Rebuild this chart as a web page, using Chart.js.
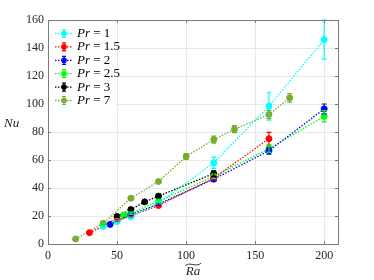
<!DOCTYPE html>
<html>
<head>
<meta charset="utf-8">
<script src="https://cdn.jsdelivr.net/npm/chart.js@4.4.0/dist/chart.umd.min.js"></script>
<style>
  html, body { margin: 0; padding: 0; background: #fff; }
  #wrap { width: 374px; height: 280px; }
</style>
</head>
<body>
<div id="wrap"><canvas id="nuChart" width="374" height="280"></canvas></div>
<script>
// Nu vs modified Ra, one series per Prandtl number
const prLabels = ['1', '1.5', '2', '2.5', '3', '7'];
const prColors = ['#00ffff', '#ff0000', '#0000ff', '#00ff00', '#000000', '#77ac30'];

const raPr1 = [40, 50, 60, 80, 120, 160, 200];
const nuPr1 = [12.5, 16, 19.5, 29, 58, 98.4, 146];
const errPr1 = [0.5, 0.6, 0.8, 1.2, 4, 10, 14];

const raPr15 = [30, 50, 60, 80, 120, 160];
const nuPr15 = [8.1, 17, 20, 27.5, 47, 75.2];
const errPr15 = [0.4, 0.6, 0.7, 1, 1.5, 4.5];

const raPr2 = [45, 60, 80, 120, 160, 200];
const nuPr2 = [14, 21, 28.5, 46.3, 66.6, 96.5];
const errPr2 = [0.5, 0.7, 1, 1.5, 2.5, 3.5];

const raPr25 = [40, 55, 60, 80, 120, 160, 200];
const nuPr25 = [13.5, 20.8, 22, 30.5, 48.3, 68, 91.2];
const errPr25 = [0.5, 0.7, 0.7, 1, 1.5, 2.5, 4];

const raPr3 = [50, 60, 70, 80, 120];
const nuPr3 = [19.6, 24.6, 30.1, 34.2, 50.3];
const errPr3 = [0.6, 0.8, 1, 1.2, 2];

const raPr7 = [20, 40, 60, 80, 100, 120, 135, 160, 175];
const nuPr7 = [3.6, 14.8, 32.7, 44.6, 62.5, 74.5, 82, 92.5, 104.4];
const errPr7 = [0.4, 0.8, 1, 1.3, 2, 2.5, 2.5, 3, 3];

const xTicks = [0, 50, 100, 150, 200];
const yTicks = [0, 20, 40, 60, 80, 100, 120, 140, 160];

const allRa = [raPr1, raPr15, raPr2, raPr25, raPr3, raPr7];
const allNu = [nuPr1, nuPr15, nuPr2, nuPr25, nuPr3, nuPr7];
const allErr = [errPr1, errPr15, errPr2, errPr25, errPr3, errPr7];

const serif = '"Liberation Serif", "DejaVu Serif", serif';

const datasets = prLabels.map((lab, k) => ({
    label: 'Pr = ' + lab,
    data: allRa[k].map((x, i) => ({ x: x, y: allNu[k][i] })),
    errors: allErr[k],
    showLine: true,
    borderColor: prColors[k],
    backgroundColor: prColors[k],
    borderWidth: 1.3,
    borderDash: [1.5, 1.5],
    pointRadius: 3,
    pointBorderWidth: 1,
    pointBackgroundColor: prColors[k],
    pointBorderColor: prColors[k],
    clip: false
}));

// vertical error bars with caps
const errorBars = {
    id: 'errorBars',
    afterDatasetsDraw(chart) {
        const ctx = chart.ctx;
        const ys = chart.scales.y;
        const area = chart.chartArea;
        ctx.save();
        ctx.beginPath();
        ctx.rect(area.left, area.top - 1, area.right - area.left, area.bottom - area.top + 2);
        ctx.clip();
        chart.data.datasets.forEach((ds, k) => {
            const meta = chart.getDatasetMeta(k);
            ctx.strokeStyle = ds.borderColor;
            ctx.lineWidth = 1.2;
            meta.data.forEach((pt, i) => {
                const e = ds.errors[i];
                const v = ds.data[i].y;
                const y1 = ys.getPixelForValue(v + e);
                const y2 = ys.getPixelForValue(v - e);
                const x = pt.x;
                ctx.beginPath();
                ctx.moveTo(x, y1); ctx.lineTo(x, y2);
                ctx.moveTo(x - 2.5, y1); ctx.lineTo(x + 2.5, y1);
                ctx.moveTo(x - 2.5, y2); ctx.lineTo(x + 2.5, y2);
                ctx.stroke();
            });
        });
        ctx.restore();
    }
};

// box, inward ticks, axis labels and legend
const frame = {
    id: 'frame',
    afterDraw(chart) {
        const ctx = chart.ctx;
        const a = chart.chartArea;
        const xs = chart.scales.x, ys = chart.scales.y;
        ctx.save();
        ctx.strokeStyle = '#7a7a7a';
        ctx.lineWidth = 1;
        ctx.strokeRect(Math.round(a.left) + 0.5, Math.round(a.top) + 0.5,
            Math.round(a.right - a.left), Math.round(a.bottom - a.top));
        ctx.beginPath();
        xTicks.forEach(t => {
            const px = Math.round(xs.getPixelForValue(t)) + 0.5;
            ctx.moveTo(px, a.bottom); ctx.lineTo(px, a.bottom - 3);
            ctx.moveTo(px, a.top); ctx.lineTo(px, a.top + 3);
        });
        yTicks.forEach(t => {
            const py = Math.round(ys.getPixelForValue(t)) + 0.5;
            ctx.moveTo(a.left, py); ctx.lineTo(a.left + 3, py);
            ctx.moveTo(a.right, py); ctx.lineTo(a.right - 3, py);
        });
        ctx.stroke();

        // y label (horizontal, like MATLAB)
        ctx.fillStyle = '#262626';
        ctx.font = 'italic 13px ' + serif;
        ctx.textAlign = 'left';
        ctx.textBaseline = 'middle';
        ctx.fillText('Nu', 4, 124);

        // x label with wide tilde
        const cx = (a.left + a.right) / 2;
        ctx.textAlign = 'center';
        ctx.fillText('Ra', cx, 272);
        ctx.beginPath();
        ctx.lineWidth = 0.9;
        ctx.strokeStyle = '#262626';
        ctx.moveTo(cx - 8, 266);
        ctx.bezierCurveTo(cx - 4, 261, cx + 4, 268, cx + 8, 263);
        ctx.stroke();

        // legend
        ctx.fillStyle = '#fff';
        ctx.fillRect(a.left + 1, a.top + 1, 67, 86);
        chart.data.datasets.forEach((ds, k) => {
            const y = 33.5 + k * 13.4;
            ctx.strokeStyle = ds.borderColor;
            ctx.fillStyle = ds.borderColor;
            ctx.lineWidth = 1.3;
            ctx.setLineDash([1.5, 1.5]);
            ctx.beginPath();
            ctx.moveTo(55, y); ctx.lineTo(73, y);
            ctx.stroke();
            ctx.setLineDash([]);
            ctx.lineWidth = 1.2;
            ctx.beginPath();
            ctx.moveTo(64, y - 4); ctx.lineTo(64, y + 4);
            ctx.moveTo(62, y - 4); ctx.lineTo(66, y - 4);
            ctx.moveTo(62, y + 4); ctx.lineTo(66, y + 4);
            ctx.stroke();
            ctx.beginPath();
            ctx.arc(64, y, 2.8, 0, Math.PI * 2);
            ctx.fill();
            ctx.fillStyle = '#000';
            ctx.textAlign = 'left';
            ctx.font = 'italic 13px ' + serif;
            ctx.fillText('Pr', 77, y);
            const w = ctx.measureText('Pr').width;
            ctx.font = '13px ' + serif;
            ctx.fillText(' = ' + prLabels[k], 77 + w, y);
        });
        ctx.restore();
    }
};

new Chart(document.getElementById('nuChart').getContext('2d'), {
    type: 'scatter',
    data: { datasets: datasets },
    options: {
        responsive: false,
        animation: false,
        layout: { padding: { left: 0, right: 36, top: 20, bottom: 0 } },
        plugins: { legend: { display: false }, tooltip: { enabled: false } },
        scales: {
            x: {
                type: 'linear', min: 0, max: 210,
                afterFit: s => { s.height = 36; },
                afterBuildTicks: s => { s.ticks = xTicks.map(v => ({ value: v })); },
                grid: { color: '#e8e8e8', drawTicks: false },
                border: { display: false },
                ticks: { padding: 5, color: '#262626', font: { family: serif, size: 12 } }
            },
            y: {
                type: 'linear', min: 0, max: 160,
                afterFit: s => { s.width = 48; },
                afterBuildTicks: s => { s.ticks = yTicks.map(v => ({ value: v })); },
                grid: { color: '#e8e8e8', drawTicks: false },
                border: { display: false },
                ticks: { padding: 4, color: '#262626', font: { family: serif, size: 12 } }
            }
        }
    },
    plugins: [errorBars, frame]
});
</script>
</body>
</html>
